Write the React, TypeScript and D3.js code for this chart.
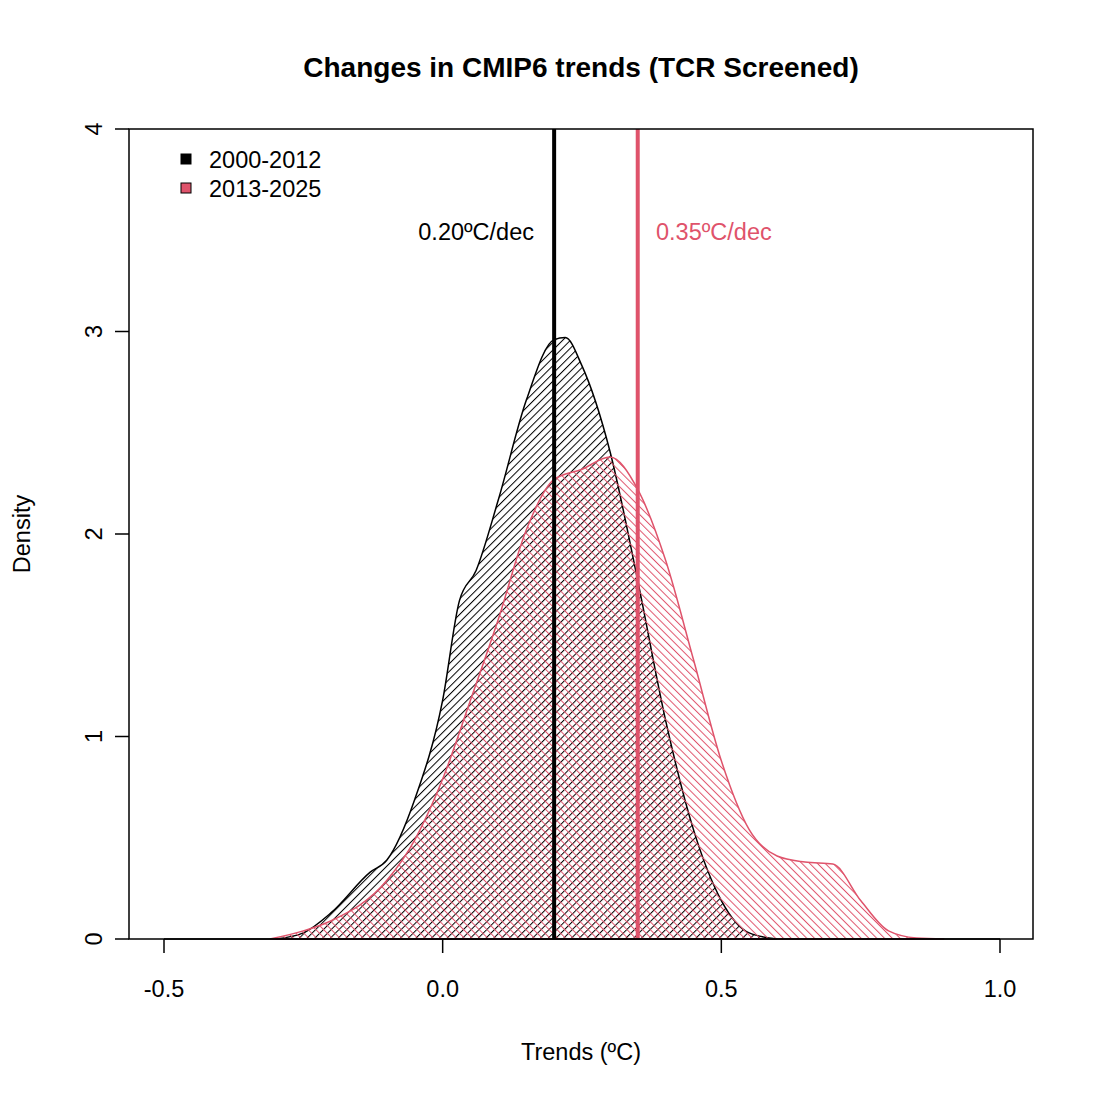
import React from "react";
import * as d3 from "d3";

const xs1 = [-0.3,-0.25,-0.2,-0.13,-0.1,-0.05,0.0,0.03,0.06,0.1,0.15,0.2,0.22,0.25,0.3,0.35,0.4,0.45,0.5,0.55,0.6];
const d1 = [0,0.03,0.13,0.33,0.39,0.69,1.18,1.67,1.82,2.17,2.66,2.96,2.97,2.83,2.41,1.77,1.08,0.54,0.19,0.03,0];
const xs2 = [-0.31,-0.25,-0.2,-0.1,-0.05,0.0,0.05,0.1,0.15,0.2,0.25,0.3,0.35,0.4,0.45,0.5,0.55,0.6,0.65,0.7,0.75,0.8,0.85,0.9];
const d2 = [0,0.04,0.09,0.29,0.49,0.79,1.18,1.58,2.02,2.27,2.32,2.38,2.22,1.87,1.38,0.88,0.54,0.41,0.38,0.37,0.19,0.04,0.005,0];
const xTicks = [-0.5,0.0,0.5,1.0];
const yTicks = [0,1,2,3,4];
const means = [0.20,0.35];
const labels = ["2000-2012","2013-2025"];
const RED = "#DF536B";

export default function App() {
  const x = d3.scaleLinear().domain([-0.5,1.0]).range([164,1000]);
  const y = d3.scaleLinear().domain([0,4]).range([939,129]);
  const area = d3.area<[number,number]>().x(d=>x(d[0])).y0(y(0)).y1(d=>y(d[1])).curve(d3.curveMonotoneX);
  const p1 = area(xs1.map((v,i)=>[v,d1[i]]) as [number,number][])!;
  const p2 = area(xs2.map((v,i)=>[v,d2[i]]) as [number,number][])!;
  const font = "Liberation Sans, Arial, sans-serif";
  return (
    <svg width={1100} height={1100} style={{display:"block",position:"absolute",left:0,top:0}} fontFamily={font}>
      <defs>
        <pattern id="h1" width={5.5} height={5.5} patternUnits="userSpaceOnUse" patternTransform="rotate(45)">
          <line x1={0} y1={0} x2={0} y2={5.5} stroke="#000" strokeWidth={2}/>
        </pattern>
        <pattern id="h2" width={5.5} height={5.5} patternUnits="userSpaceOnUse" patternTransform="rotate(-45)">
          <line x1={0} y1={0} x2={0} y2={5.5} stroke={RED} strokeWidth={2}/>
        </pattern>
      </defs>
      <rect width={1100} height={1100} fill="#fff"/>
      <text x={581} y={77} textAnchor="middle" fontSize={28} fontWeight="bold">Changes in CMIP6 trends (TCR Screened)</text>
      <path d={p1} fill="url(#h1)" stroke="#000" strokeWidth={1.5}/>
      <path d={p2} fill="url(#h2)" stroke={RED} strokeWidth={1.5}/>
      <line x1={x(means[0])} x2={x(means[0])} y1={129} y2={939} stroke="#000" strokeWidth={4}/>
      <line x1={x(means[1])} x2={x(means[1])} y1={129} y2={939} stroke={RED} strokeWidth={4}/>
      <text x={534} y={240} textAnchor="end" fontSize={23.5}>0.20ºC/dec</text>
      <text x={656} y={240} fontSize={23.5} fill={RED}>0.35ºC/dec</text>
      <rect x={129} y={129} width={904} height={810} fill="none" stroke="#000" strokeWidth={1.5}/>
      {labels.map((l,i)=>(
        <g key={l}>
          <rect x={181} y={154+i*29} width={10} height={10} fill={i?RED:"#000"} stroke="#000"/>
          <text x={209} y={168+i*29} fontSize={23.5}>{l}</text>
        </g>
      ))}
      <line x1={x(-0.5)} x2={x(1.0)} y1={939} y2={939} stroke="#000" strokeWidth={1.5}/>
      {xTicks.map(t=>(
        <g key={t}>
          <line x1={x(t)} x2={x(t)} y1={939} y2={953} stroke="#000" strokeWidth={1.5}/>
          <text x={x(t)} y={997} textAnchor="middle" fontSize={23.5}>{t.toFixed(1)}</text>
        </g>
      ))}
      {yTicks.map(t=>(
        <g key={t}>
          <line x1={115} x2={129} y1={y(t)} y2={y(t)} stroke="#000" strokeWidth={1.5}/>
          <text transform={`translate(102,${y(t)}) rotate(-90)`} textAnchor="middle" fontSize={23.5}>{t}</text>
        </g>
      ))}
      <text x={581} y={1060} textAnchor="middle" fontSize={23.5}>Trends (ºC)</text>
      <text transform="translate(30,534) rotate(-90)" textAnchor="middle" fontSize={23.5}>Density</text>
    </svg>
  );
}
